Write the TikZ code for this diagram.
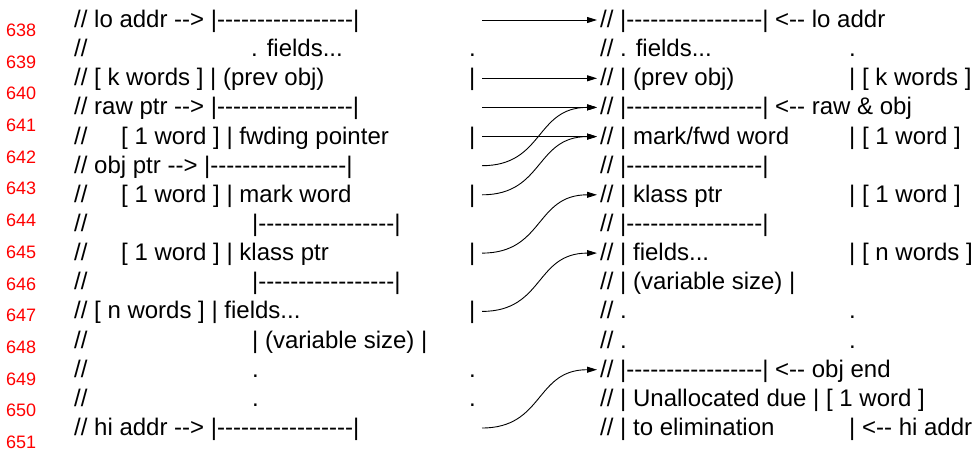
\documentclass[tikz,border=0pt]{standalone}
\usepackage{fontspec}
\setmainfont{Liberation Sans}[Ligatures={TeXOff,CommonOff}]
\usetikzlibrary{arrows.meta}
\begin{document}
\begin{tikzpicture}[x=1pt,y=-1pt,
  txt/.style={anchor=base west,inner sep=0pt,font=\fontsize{24}{24}\selectfont,text=black},
  num/.style={anchor=base west,inner sep=0pt,font=\fontsize{18}{18}\selectfont,text=red},
  link/.style={-{Triangle[length=10pt,width=6pt]},line width=0.9pt}]
\useasboundingbox (0,0) rectangle (977,448);
% line numbers
\foreach \n [count=\j from 0] in {638,...,651}
  \node[num] (ln\n) at (6,{36.4+31.7*\j}) {\n};
% left column
\node[txt] (L0) at (74,27.5) {// lo addr --> |-----------------|};
\node[txt] (L1a) at (74,56.64) {//};
\node[txt] (L1b) at (251,56.64) {. fields...};
\node[txt] (L1c) at (469,56.64) {.};
\node[txt] (L2a) at (74,85.78) {// [ k words ] | (prev obj)};
\node[txt] (L2b) at (469,85.78) {|};
\node[txt] (L3) at (74,114.92) {// raw ptr --> |-----------------|};
\node[txt] (L4a) at (74,144.06) {//};
\node[txt] (L4b) at (121,144.06) {[ 1 word ] | fwding pointer};
\node[txt] (L4c) at (469,144.06) {|};
\node[txt] (L5) at (74,173.2) {// obj ptr --> |-----------------|};
\node[txt] (L6a) at (74,202.34) {//};
\node[txt] (L6b) at (121,202.34) {[ 1 word ] | mark word};
\node[txt] (L6c) at (469,202.34) {|};
\node[txt] (L7a) at (74,231.48) {//};
\node[txt] (L7b) at (252,231.48) {|-----------------|};
\node[txt] (L8a) at (74,260.62) {//};
\node[txt] (L8b) at (121,260.62) {[ 1 word ] | klass ptr};
\node[txt] (L8c) at (469,260.62) {|};
\node[txt] (L9a) at (74,289.76) {//};
\node[txt] (L9b) at (252,289.76) {|-----------------|};
\node[txt] (L10a) at (74,318.9) {// [ n words ] | fields...};
\node[txt] (L10b) at (469,318.9) {|};
\node[txt] (L11a) at (74,348.04) {//};
\node[txt] (L11b) at (252,348.04) {| (variable size) |};
\node[txt] (L12a) at (74,377.18) {//};
\node[txt] (L12b) at (252,377.18) {.};
\node[txt] (L12c) at (469,377.18) {.};
\node[txt] (L13a) at (74,406.32) {//};
\node[txt] (L13b) at (252,406.32) {.};
\node[txt] (L13c) at (469,406.32) {.};
\node[txt] (L14) at (74,435.46) {// hi addr --> |-----------------|};
% right column
\node[txt] (R0) at (600,27.5) {// |-----------------| <-- lo addr};
\node[txt] (R1a) at (600,56.64) {// . fields...};
\node[txt] (R1b) at (849,56.64) {.};
\node[txt] (R2a) at (600,85.78) {// | (prev obj)};
\node[txt] (R2b) at (849,85.78) {| [ k words ]};
\node[txt] (R3) at (600,114.92) {// |-----------------| <-- raw \& obj};
\node[txt] (R4a) at (600,144.06) {// | mark/fwd word};
\node[txt] (R4b) at (849,144.06) {| [ 1 word ]};
\node[txt] (R5) at (600,173.2) {// |-----------------|};
\node[txt] (R6a) at (600,202.34) {// | klass ptr};
\node[txt] (R6b) at (849,202.34) {| [ 1 word ]};
\node[txt] (R7) at (600,231.48) {// |-----------------|};
\node[txt] (R8a) at (600,260.62) {// | fields...};
\node[txt] (R8b) at (849,260.62) {| [ n words ]};
\node[txt] (R9) at (600,289.76) {// | (variable size) |};
\node[txt] (R10a) at (600,318.9) {// .};
\node[txt] (R10b) at (849,318.9) {.};
\node[txt] (R11a) at (600,348.04) {// .};
\node[txt] (R11b) at (849,348.04) {.};
\node[txt] (R12) at (600,377.18) {// |-----------------| <-- obj end};
\node[txt] (R13) at (600,406.32) {// | Unallocated due | [ 1 word ]};
\node[txt] (R14a) at (600,435.46) {// | to elimination};
\node[txt] (R14b) at (849,435.46) {| <-- hi addr};
% arrow end points
\coordinate (s0) at (482,20);
\coordinate (s2) at (482,78.3);
\coordinate (s3) at (482,107.4);
\coordinate (s4) at (482,136.6);
\coordinate (s5) at (482,165.7);
\coordinate (s6) at (482,194.8);
\coordinate (s8) at (482,253.1);
\coordinate (s10) at (482,311.4);
\coordinate (s14) at (482,428);
\coordinate (t0) at (597,20);
\coordinate (t2) at (597,78.3);
\coordinate (t3) at (597,107.4);
\coordinate (t4) at (597,136.6);
\coordinate (t6) at (597,194.8);
\coordinate (t8) at (597,253.1);
\coordinate (t12) at (597,369.7);
% arrows
\draw[link] (s0) -- (t0);
\draw[link] (s2) -- (t2);
\draw[link] (s3) -- (t3);
\draw[link] (s4) -- (t4);
\draw[link] (s5) .. controls +(62,0) and +(-62,0) .. (t3);
\draw[link] (s6) .. controls +(62,0) and +(-62,0) .. (t4);
\draw[link] (s8) .. controls +(62,0) and +(-62,0) .. (t6);
\draw[link] (s10) .. controls +(62,0) and +(-62,0) .. (t8);
\draw[link] (s14) .. controls +(62,0) and +(-62,0) .. (t12);
\end{tikzpicture}
\end{document}
